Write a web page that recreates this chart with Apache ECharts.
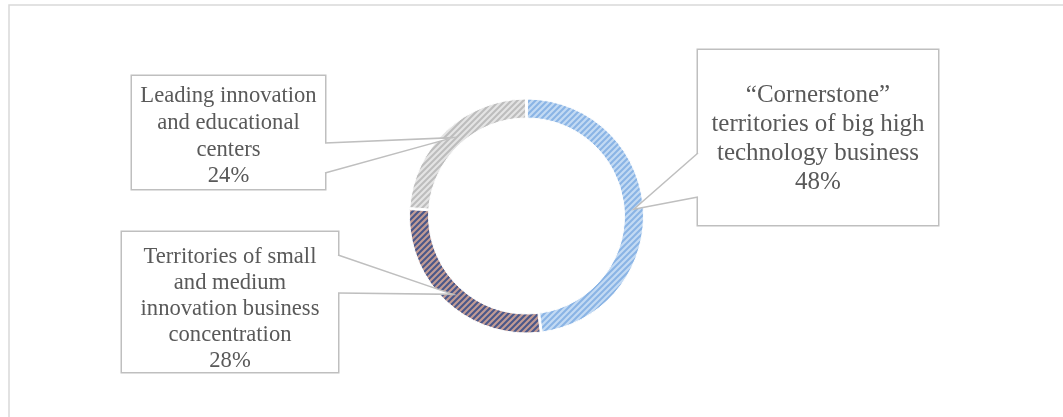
<!DOCTYPE html>
<html><head><meta charset="utf-8">
<script src="https://cdn.jsdelivr.net/npm/echarts@6/dist/echarts.min.js"></script>
<style>html,body{margin:0;padding:0;background:#fff}#c{width:1063px;height:417px}</style>
</head><body><div id="c"></div>
<script>
// ---- data ----
const categories = [
  '“Cornerstone”\nterritories of big high\ntechnology business',
  'Territories of small\nand medium\ninnovation business\nconcentration',
  'Leading innovation\nand educational\ncenters'
];
const values = [48, 28, 24];

// ---- styles / layout (not data) ----
const stripeColors = [
  ['#c3daf3', '#8ab4e5'],
  ['#c19b95', '#4a5789'],
  ['#e4e4e4', '#bdbdbd']
];
const boxes = [
  {x: 698, y: 50, w: 240, h: 175, pt: 31, fs: 25, lh: 29, edgeX: 698, b1: 153, b2: 197},
  {x: 122, y: 232, w: 216, h: 140, pt: 12, fs: 22.6, lh: 26, edgeX: 338, b1: 255, b2: 293},
  {x: 132, y: 76, w: 193, h: 113, pt: 7, fs: 22.6, lh: 26.7, edgeX: 325, b1: 143, b2: 173}
];
const CX = 526.5, CY = 216, R0 = 98, R1 = 117;

function stripe(bg, fg) {
  const s = 6, c = document.createElement('canvas');
  c.width = s; c.height = s;
  const g = c.getContext('2d');
  g.fillStyle = bg; g.fillRect(0, 0, s, s);
  g.strokeStyle = fg; g.lineWidth = 2.1;
  g.beginPath();
  g.moveTo(-1, s + 1); g.lineTo(s + 1, -1);
  g.moveTo(-1, 1); g.lineTo(1, -1);
  g.moveTo(s - 1, s + 1); g.lineTo(s + 1, s - 1);
  g.stroke();
  return c;
}

const chart = echarts.init(document.getElementById('c'), null, {renderer: 'canvas'});
const font = "'Liberation Serif', 'Times New Roman', serif";

const seriesData = categories.map((name, i) => ({
  name: name,
  value: values[i],
  itemStyle: {color: {image: stripe(stripeColors[i][0], stripeColors[i][1]), repeat: 'repeat'}},
  label: {
    width: boxes[i].w,
    height: boxes[i].h - boxes[i].pt,
    padding: [boxes[i].pt, 0, 0, 0],
    fontSize: boxes[i].fs,
    lineHeight: boxes[i].lh
  }
}));

chart.setOption({
  animation: false,
  backgroundColor: '#fff',
  series: [{
    type: 'pie',
    center: [CX, CY],
    radius: [R0, R1],
    startAngle: 90,
    clockwise: true,
    padAngle: 1,
    itemStyle: {borderColor: '#fff', borderWidth: 1},
    label: {
      show: true,
      position: 'outside',
      formatter: p => p.name + '\n' + p.percent + '%',
      fontFamily: font,
      color: '#595959',
      align: 'center',
      overflow: 'none',
      backgroundColor: '#fff',
      borderColor: '#bfbfbf',
      borderWidth: 1.5,
      z2: 10
    },
    labelLine: {show: false},
    emphasis: {disabled: true},
    labelLayout: function (params) {
      const b = boxes[params.dataIndex];
      return {x: b.x + b.w / 2, y: b.y, align: 'center', verticalAlign: 'top'};
    },
    data: seriesData
  }]
});

// callout wedges from box edge to middle of each ring segment
const total = values.reduce((a, b) => a + b, 0);
let cum = 0;
const graphics = [{
  type: 'rect', z: 0, silent: true,
  shape: {x: 9, y: 5, width: 1080, height: 440},
  style: {fill: 'none', stroke: '#d9d9d9', lineWidth: 1.5}
}];
values.forEach((v, i) => {
  const a = (cum + v / 2) / total * Math.PI * 2;
  cum += v;
  const rm = (R0 + R1) / 2;
  const tx = CX + rm * Math.sin(a), ty = CY - rm * Math.cos(a);
  const b = boxes[i];
  graphics.push({
    type: 'polygon', z: 100, silent: true,
    shape: {points: [[b.edgeX, b.b1], [tx, ty], [b.edgeX, b.b2]]},
    style: {fill: '#fff', stroke: null}
  });
  graphics.push({
    type: 'line', z: 101, silent: true,
    shape: {x1: b.edgeX, y1: b.b1 + 0.8, x2: b.edgeX, y2: b.b2 - 0.8},
    style: {stroke: '#fff', lineWidth: 3}
  });
  graphics.push({
    type: 'polyline', z: 102, silent: true,
    shape: {points: [[b.edgeX, b.b1], [tx, ty], [b.edgeX, b.b2]]},
    style: {stroke: '#bfbfbf', lineWidth: 1.5, fill: null}
  });
});
chart.setOption({graphic: graphics});
</script>
</body></html>
